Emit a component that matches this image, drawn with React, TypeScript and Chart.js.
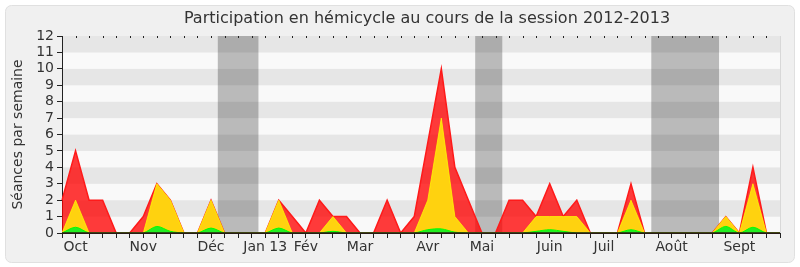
import React, { useEffect, useRef } from 'react';
import { Chart, registerables } from 'chart.js';

Chart.register(...registerables);

const titleText = 'Participation en hémicycle au cours de la session 2012-2013';
const yTitleText = 'Séances par semaine';

const weekCount = 54;
const monthIndex = [1, 6, 11, 15, 18, 22, 27, 31, 36, 40, 45, 50];
const monthNames = ['Oct', 'Nov', 'Déc', 'Jan 13', 'Fév', 'Mar', 'Avr', 'Mai', 'Juin', 'Juil', 'Août', 'Sept'];

const presence = [
  2, 5, 2, 2, 0, 0, 1, 3, 2, 0,
  0, 2, 0, 0, 0, 0, 2, 1, 0, 2,
  1, 1, 0, 0, 2, 0, 1, 5.5, 10, 4,
  2, 0, 0, 2, 2, 1, 3, 1, 2, 0,
  0, 0, 3, 0, 0, 0, 0, 0, 0, 1,
  0, 4, 0, 0,
];
const interventions = [
  0, 2, 0, 0, 0, 0, 0, 3, 2, 0,
  0, 2, 0, 0, 0, 0, 2, 0, 0, 0,
  1, 0, 0, 0, 0, 0, 0, 2, 7, 1,
  0, 0, 0, 0, 0, 1, 1, 1, 1, 0,
  0, 0, 2, 0, 0, 0, 0, 0, 0, 1,
  0, 3, 0, 0,
];
const questions = [
  0, 0.35, 0, 0, 0, 0, 0, 0.4, 0.1, 0,
  0, 0.3, 0, 0, 0, 0, 0.3, 0, 0, 0,
  0.1, 0, 0, 0, 0, 0, 0, 0.2, 0.25, 0.05,
  0, 0, 0, 0, 0, 0.1, 0.2, 0.1, 0, 0,
  0, 0, 0.2, 0, 0, 0, 0, 0, 0, 0.4,
  0, 0.35, 0, 0,
];

const vacationStart = [11.5, 30.5, 43.5];
const vacationEnd = [14.5, 32.5, 48.5];

const yMax = 12;

const FONT = '"DejaVu Sans", Verdana, sans-serif';

const decorPlugin = {
  id: 'decor',
  beforeDraw(chart: any) {
    const { ctx, chartArea: a, scales } = chart;
    const x = scales.x;
    const y = scales.y;
    ctx.save();
    ctx.fillStyle = '#ffffff';
    ctx.fillRect(0, 0, chart.width, chart.height);
    ctx.beginPath();
    ctx.roundRect(5.5, 5.5, 789, 257, 6);
    ctx.fillStyle = '#f0f0f0';
    ctx.fill();
    ctx.strokeStyle = '#e0e0e0';
    ctx.lineWidth = 1;
    ctx.stroke();
    for (let v = 0; v < yMax; v++) {
      const t = y.getPixelForValue(v + 1);
      const b = y.getPixelForValue(v);
      ctx.fillStyle = v % 2 === 1 ? '#e6e6e6' : '#f9f9f9';
      ctx.fillRect(a.left, t, a.right - a.left, b - t);
    }
    ctx.fillStyle = 'rgba(0,0,0,0.25)';
    vacationStart.forEach((s, i) => {
      const l = x.getPixelForValue(s);
      const r = x.getPixelForValue(vacationEnd[i]);
      ctx.fillRect(l, a.top, r - l, a.bottom - a.top);
    });
    ctx.fillStyle = '#333333';
    ctx.font = '16px ' + FONT;
    ctx.textAlign = 'center';
    ctx.textBaseline = 'middle';
    ctx.fillText(titleText, (a.left + a.right) / 2 + 6, 19);
    ctx.restore();
  },
  afterDatasetsDraw(chart: any) {
    const { ctx, chartArea: a } = chart;
    ctx.save();
    ctx.strokeStyle = '#2a1a10';
    ctx.lineWidth = 1.5;
    ctx.beginPath();
    ctx.moveTo(a.left, a.bottom);
    ctx.lineTo(a.right, a.bottom);
    ctx.stroke();
    ctx.restore();
  },
  afterDraw(chart: any) {
    const { ctx, chartArea: a, scales } = chart;
    const x = scales.x;
    ctx.save();
    ctx.fillStyle = '#222222';
    for (let i = 0; i < weekCount; i++) {
      const px = Math.round(x.getPixelForValue(i));
      ctx.fillRect(px, a.top, 1, 2);
    }
    ctx.strokeStyle = '#d8d8d8';
    ctx.lineWidth = 1;
    ctx.beginPath();
    ctx.moveTo(Math.round(a.right) + 0.5, a.top);
    ctx.lineTo(Math.round(a.right) + 0.5, a.bottom);
    ctx.stroke();
    ctx.restore();
  },
};

export default function App() {
  const ref = useRef<HTMLCanvasElement>(null);
  useEffect(() => {
    if (!ref.current) return;
    const labels: string[] = [];
    for (let i = 0; i < weekCount; i++) labels.push('');
    monthIndex.forEach((idx, k) => { labels[idx] = monthNames[k]; });

    Chart.defaults.font.family = FONT;
    const chart = new Chart(ref.current, {
      type: 'line',
      data: {
        labels,
        datasets: [
          {
            label: 'Présence',
            data: presence,
            order: 3,
            fill: 'origin',
            backgroundColor: 'rgba(255,0,0,0.77)',
            borderColor: '#ff1a1a',
            borderWidth: 1.5,
            pointRadius: 0,
            tension: 0,
          },
          {
            label: 'Interventions',
            data: interventions,
            order: 2,
            fill: 'origin',
            backgroundColor: '#ffd20f',
            borderColor: 'rgba(255,255,0,0.75)',
            borderWidth: 1,
            pointRadius: 0,
            tension: 0,
          },
          {
            label: 'Questions',
            data: questions,
            order: 1,
            fill: 'origin',
            backgroundColor: '#22ee22',
            borderColor: '#00ff00',
            borderWidth: 1,
            pointRadius: 0,
            tension: 0.3,
          },
        ],
      },
      options: {
        animation: false,
        responsive: false,
        layout: { padding: { top: 36, right: 20, bottom: 0, left: 0 } },
        plugins: {
          legend: { display: false },
          tooltip: { enabled: false },
          title: { display: false },
        },
        scales: {
          x: {
            type: 'category',
            offset: false,
            afterFit: (s: any) => { s.height = 34; },
            grid: {
              drawOnChartArea: false,
              drawTicks: true,
              tickLength: 5,
              color: '#222222',
            },
            border: { display: true, color: '#222222', width: 1 },
            ticks: {
              autoSkip: false,
              maxRotation: 0,
              minRotation: 0,
              padding: 1,
              color: '#333333',
              font: { size: 14, family: FONT },
            },
          },
          y: {
            min: 0,
            max: yMax,
            afterFit: (s: any) => { s.width = 62; },
            grid: {
              drawOnChartArea: false,
              drawTicks: true,
              tickLength: 5,
              color: '#222222',
            },
            border: { display: true, color: '#222222', width: 1 },
            ticks: {
              stepSize: 1,
              autoSkip: false,
              padding: 3,
              color: '#333333',
              font: { size: 14, family: FONT },
            },
            title: {
              display: true,
              text: yTitleText,
              color: '#333333',
              font: { size: 14, family: FONT },
              padding: { top: 10, bottom: 0 },
            },
          },
        },
      },
      plugins: [decorPlugin],
    } as any);
    return () => chart.destroy();
  }, []);

  return (
    <div style={{ position: 'absolute', left: 0, top: 0, width: 800, height: 267 }}>
      <canvas ref={ref} width={800} height={267} />
    </div>
  );
}
